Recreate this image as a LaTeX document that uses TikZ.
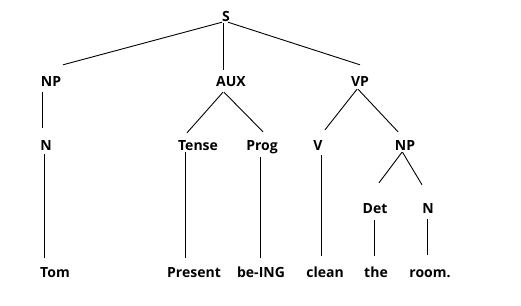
\documentclass[tikz,border=0pt]{standalone}
\usepackage{fontspec}
\setmainfont{Open Sans}
\usepackage{tikz}
\usetikzlibrary{positioning}

\begin{document}
\begin{tikzpicture}[
		x=1bp, y=-1bp,
		% --- ESTILOS DEL ARBOL ---
		cat_label/.style={
			anchor=base,
			inner sep=0pt,
			text height=10.5bp,
			text depth=0pt,
			font=\fontsize{14bp}{16bp}\selectfont\bfseries
		},
		branch_line/.style={
			draw=black,
			line width=0.9bp
		}
		]
		\useasboundingbox (0,0) rectangle (521,305);
		
		% --- RAIZ ---
		\node (s) [cat_label] at (226,21) {S};
		
		% --- PRIMER NIVEL ---
		\node (np) [cat_label] at (51,86) {NP};
		\node (aux) [cat_label] at (231,86) {AUX};
		\node (vp) [cat_label] at (360,86) {VP};
		
		% --- SEGUNDO NIVEL ---
		\node (n) [cat_label] at (46,150) {N};
		\node (tense) [cat_label] at (198,150) {Tense};
		\node (prog) [cat_label] at (262,150) {Prog};
		\node (v) [cat_label] at (318,150) {V};
		\node (np2) [cat_label] at (405,150) {NP};
		
		% --- TERCER NIVEL ---
		\node (det) [cat_label] at (375,213) {Det};
		\node (n2) [cat_label] at (428,213) {N};
		
		% --- PALABRAS ---
		\node (tom) [cat_label] at (55,277) {Tom};
		\node (present) [cat_label] at (194,277) {Present};
		\node (being) [cat_label] at (261,277) {be-ING};
		\node (clean) [cat_label] at (325,277) {clean};
		\node (the) [cat_label] at (376,277) {the};
		\node (room) [cat_label] at (430,277) {room.};
		
		% --- RAMAS ---
		\draw [branch_line] ([shift={(-4,1)}]s.south) -- ([shift={(12,-10.5)}]np.north);
		\draw [branch_line] ([shift={(-3,2)}]s.south) -- ([shift={(-8,-5.5)}]aux.north);
		\draw [branch_line] ([shift={(2,1)}]s.south) -- ([shift={(0,-10.5)}]vp.north);
		
		\draw [branch_line] ([shift={(-9,6)}]np.south) -- ([shift={(-4,-11.5)}]n.north);
		\draw [branch_line] ([shift={(-8,6)}]aux.south) -- ([shift={(-11,-6.5)}]tense.north);
		\draw [branch_line] ([shift={(-7,6)}]aux.south) -- ([shift={(1,-7.5)}]prog.north);
		\draw [branch_line] ([shift={(-3,3)}]vp.south) -- ([shift={(7,-9.5)}]v.north);
		\draw [branch_line] ([shift={(-2,3)}]vp.south) -- ([shift={(-7,-7.5)}]np2.north);
		
		% Ramas hacia Det y N dentro del NP de VP
		\draw [branch_line] ([shift={(-3,2)}]np2.south) -- ([shift={(4,-19.5)}]det.north);
		\draw [branch_line] ([shift={(-2.5,2)}]np2.south) -- ([shift={(-6,-17.5)}]n2.north);
		
		% Lineas verticales hasta las palabras
		\draw [branch_line] ([shift={(-2,4)}]n.south) -- ([shift={(-11,-8.5)}]tom.north);
		\draw [branch_line] ([shift={(-13,2)}]tense.south) -- ([shift={(-9,-8.5)}]present.north);
		\draw [branch_line] ([shift={(-2,7)}]prog.south) -- ([shift={(-1,-8.5)}]being.north);
		\draw [branch_line] ([shift={(3,5)}]v.south) -- ([shift={(-4,-10.5)}]clean.north);
		\draw [branch_line] ([shift={(-1,7)}]det.south) -- ([shift={(-2,-10.5)}]the.north);
		\draw [branch_line] ([shift={(-1,6)}]n2.south) -- ([shift={(-3,-11.5)}]room.north);
		
	\end{tikzpicture}
\end{document}
